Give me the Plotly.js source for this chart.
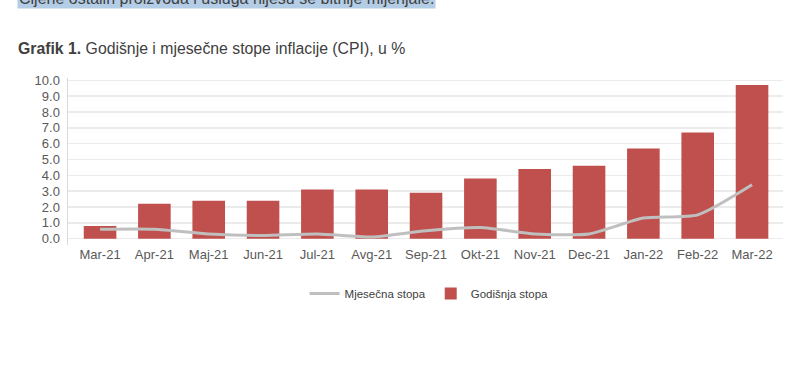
<!DOCTYPE html>
<html>
<head>
<meta charset="utf-8">
<script src="https://cdn.plot.ly/plotly-3.0.1.min.js"></script>
<style>html,body{margin:0;padding:0;background:#fff;}#chart{width:800px;height:382px;}</style>
</head>
<body>
<div id="chart"></div>
<script>
var months = ["Mar-21","Apr-21","Maj-21","Jun-21","Jul-21","Avg-21","Sep-21","Okt-21","Nov-21","Dec-21","Jan-22","Feb-22","Mar-22"];
var annualRate = [0.8, 2.2, 2.4, 2.4, 3.1, 3.1, 2.9, 3.8, 4.4, 4.6, 5.7, 6.7, 9.7];
var monthlyRate = [0.6, 0.6, 0.3, 0.2, 0.3, 0.1, 0.5, 0.7, 0.3, 0.3, 1.3, 1.5, 3.4];
var yTicks = [0,1,2,3,4,5,6,7,8,9,10];
var yTickLabels = ["0.0","1.0","2.0","3.0","4.0","5.0","6.0","7.0","8.0","9.0","10.0"];

var font = "Arial, 'Liberation Sans', sans-serif";

var traces = [
  {
    type: "bar", name: "Godišnja stopa", x: months, y: annualRate,
    marker: {color: "#c0504d"}, showlegend: true
  },
  {
    type: "scatter", mode: "lines", name: "Mjesečna stopa", x: months, y: monthlyRate,
    line: {color: "#bfbfbf", width: 3, shape: "spline", smoothing: 0.6}
  }
];

var layout = {
  width: 800, height: 382,
  margin: {l: 68, r: 17, t: 78, b: 137.4, pad: 0},
  paper_bgcolor: "#ffffff", plot_bgcolor: "#ffffff",
  font: {family: font, color: "#595959", size: 13},
  bargap: 0.4,
  title: {
    text: "<b>Grafik 1.</b> Godišnje i mjesečne stope inflacije (CPI), u %",
    font: {family: font, size: 15.8, color: "#404040"},
    x: 0.0225, xanchor: "left", xref: "container",
    y: 0.874, yanchor: "middle", yref: "container"
  },
  xaxis: {
    type: "category", range: [-0.59, 12.57],
    showgrid: false, showline: false, zeroline: false,
    ticks: "", tickfont: {size: 13, color: "#595959"}
  },
  yaxis: {
    range: [-0.4, 10.15], tickvals: yTicks, ticktext: yTickLabels,
    showgrid: true, gridcolor: "#ebebeb", gridwidth: 1.5,
    zeroline: false, showline: true, linecolor: "#d9d9d9", linewidth: 1.5,
    ticks: "", tickfont: {size: 13, color: "#595959"}, ticklabelstandoff: 4
  },
  legend: {
    orientation: "h", x: 0.505, xanchor: "center", y: -0.29, yanchor: "middle",
    traceorder: "reversed", font: {size: 11.5, color: "#404040"},
    itemwidth: 30
  },
  annotations: [{
    xref: "paper", yref: "paper", x: -0.0713, y: 1.414, xanchor: "left", yanchor: "bottom",
    text: "Cijene ostalih proizvoda i usluga nijesu se bitnije mijenjale.",
    showarrow: false, bgcolor: "#b4cde6", borderpad: 1,
    font: {family: font, size: 16, color: "#404040"}
  }]
};

Plotly.newPlot("chart", traces, layout, {displayModeBar: false, staticPlot: true});
</script>
</body>
</html>
